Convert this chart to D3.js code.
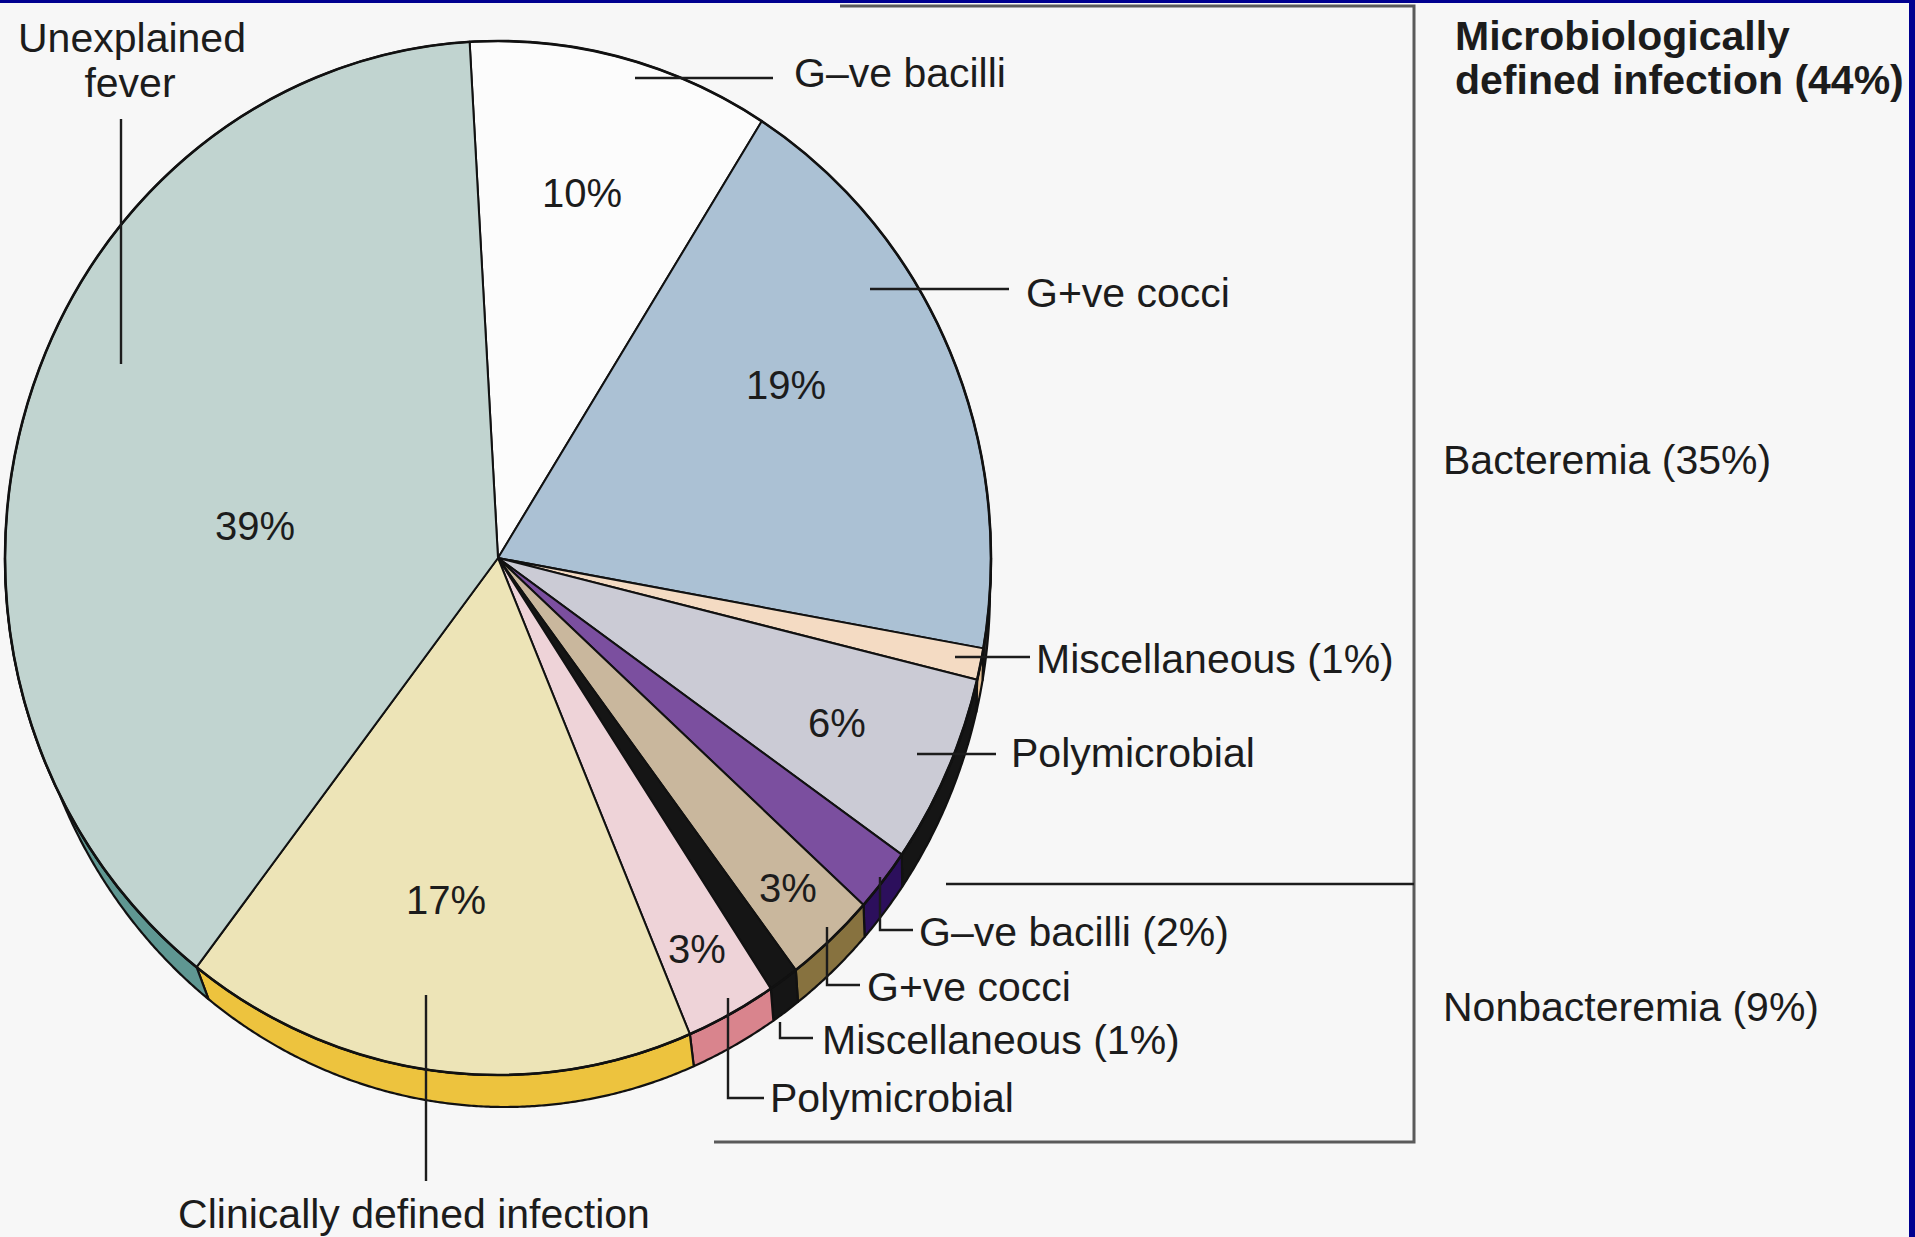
<!DOCTYPE html>
<html>
<head>
<meta charset="utf-8">
<script src="https://cdn.jsdelivr.net/npm/d3@7"></script>
<style>
  html, body { margin: 0; padding: 0; background: #000090; }
  svg { display: block; }
  text { font-family: "Liberation Sans", Arial, Helvetica, sans-serif; fill: #1c1c1c; }
</style>
</head>
<body>
<svg id="chart" width="1915" height="1237"></svg>
<script>
// ---------------- DATA ----------------
const categories = [
  "G\u2013ve bacilli", "G+ve cocci", "Miscellaneous (1%)", "Polymicrobial",
  "G\u2013ve bacilli (2%)", "G+ve cocci", "Miscellaneous (1%)", "Polymicrobial",
  "Clinically defined infection", "Unexplained fever"
];
const values = [10, 19, 1, 6, 2, 3, 1, 3, 17, 39];
const pctLabels = ["10%", "19%", "", "6%", "", "3%", "", "3%", "17%", "39%"];
const groupTitle = ["Microbiologically", "defined infection (44%)"];
const groupLabels = ["Bacteremia (35%)", "Nonbacteremia (9%)"];

// ---------------- STYLE / LAYOUT ----------------
const topColors  = ["#fcfcfc", "#abc1d4", "#f4dbc3", "#cbcbd5", "#7b4f9f", "#c9b79d", "#151515", "#eed3d8", "#ede4b7", "#c1d4d0"];
const sideColors = ["#dcdcdc", "#2a2a2a", "#e6c196", "#151515", "#2c0f5c", "#87723f", "#151515", "#d9848d", "#edc33e", "#5f9792"];

const W = 1915, H = 1237;
const cx = 498, cy = 558, rx = 493, ry = 517;
const depth = 32, sideShiftX = 7, sideShrink = 8;
const startDeg = -3.3;

const svg = d3.select("#chart");

// background panel
svg.append("rect").attr("x", 0).attr("y", 3).attr("width", 1909).attr("height", H - 3).attr("fill", "#f7f7f7");

// ---------------- PIE ----------------
const k = ry / rx;
const a0 = startDeg * Math.PI / 180;
const pie = d3.pie().sort(null).value(d => d).startAngle(a0).endAngle(a0 + 2 * Math.PI);
const arcs = pie(values);
const arcGen = d3.arc().innerRadius(0).outerRadius(rx);

// side walls (3D depth) drawn in screen coordinates, lower half only
const topPt = t => [cx + rx * Math.sin(t), cy - ry * Math.cos(t)];
const botPt = t => [cx + sideShiftX + (rx - sideShrink) * Math.sin(t), cy + depth - ry * Math.cos(t)];
const sides = svg.append("g");
const closedLine = d3.line().curve(d3.curveLinearClosed);
arcs.forEach((a, i) => {
  const b0 = Math.max(a.startAngle, Math.PI / 2);
  const b1 = Math.min(a.endAngle, 3 * Math.PI / 2);
  if (b1 <= b0) return;
  const n = Math.max(4, Math.ceil((b1 - b0) / 0.005));
  const ts = d3.range(n + 1).map(j => b0 + (b1 - b0) * j / n);
  const pts = ts.map(topPt).concat(ts.slice().reverse().map(botPt));
  sides.append("path")
    .attr("d", closedLine(pts))
    .attr("fill", sideColors[i])
    .attr("stroke", "#111")
    .attr("stroke-width", 2.2)
    .attr("stroke-linejoin", "round");
});

const g = svg.append("g").attr("transform", `translate(${cx},${cy}) scale(1,${k})`);

// top slices
g.selectAll("path.slice")
  .data(arcs)
  .join("path")
  .attr("class", "slice")
  .attr("d", arcGen)
  .attr("fill", (d, i) => topColors[i])
  .attr("stroke", "#111")
  .attr("stroke-width", 2)
  .attr("stroke-linejoin", "round")
  .attr("vector-effect", "non-scaling-stroke");

// outer rim outline
g.append("ellipse").attr("cx", 0).attr("cy", 0).attr("rx", rx).attr("ry", rx)
  .attr("fill", "none").attr("stroke", "#111").attr("stroke-width", 2.6)
  .attr("vector-effect", "non-scaling-stroke");

// ---------------- PERCENT LABELS ----------------
const pctPos = [[582, 207], [786, 399], null, [837, 737], null, [788, 902], null, [697, 963], [446, 914], [255, 540]];
pctLabels.forEach((t, i) => {
  if (!t) return;
  svg.append("text")
    .attr("x", pctPos[i][0]).attr("y", pctPos[i][1])
    .attr("text-anchor", "middle")
    .attr("font-size", 40)
    .text(t);
});

// ---------------- LEADERS & CATEGORY LABELS ----------------
const lineStyle = sel => sel.attr("fill", "none").attr("stroke", "#1c1c1c").attr("stroke-width", 2.4);
const leaders = [
  [[635, 78], [773, 78]],                 // G-ve bacilli
  [[870, 289], [1009, 289]],              // G+ve cocci
  [[955, 657], [1030, 657]],              // Misc (1%)
  [[917, 754], [996, 754]],               // Polymicrobial
  [[880, 877], [880, 930], [913, 930]],   // G-ve bacilli (2%)
  [[827, 927], [827, 985], [860, 985]],   // G+ve cocci (nonbact)
  [[780, 1022], [780, 1038], [813, 1038]],// Misc (1%) nonbact
  [[728, 998], [728, 1098], [764, 1098]], // Polymicrobial nonbact
  [[426, 995], [426, 1181]],              // Clinically defined infection
  [[121, 119], [121, 364]]                // Unexplained fever
];
const line = d3.line();
leaders.forEach(pts => svg.append("path").attr("d", line(pts)).call(lineStyle));

const labelPos = [
  [794, 87, "start"], [1026, 307, "start"], [1036, 673, "start"], [1011, 767, "start"],
  [919, 946, "start"], [867, 1001, "start"], [822, 1054, "start"], [770, 1112, "start"],
  [414, 1228, "middle"], null
];
categories.forEach((c, i) => {
  const p = labelPos[i];
  if (!p) return;
  svg.append("text").attr("x", p[0]).attr("y", p[1]).attr("text-anchor", p[2])
    .attr("font-size", 41).text(c);
});
// Unexplained fever on two lines
const uf = categories[9].split(" ");
svg.append("text").attr("x", 132).attr("y", 52).attr("text-anchor", "middle").attr("font-size", 41).text(uf[0]);
svg.append("text").attr("x", 130).attr("y", 97).attr("text-anchor", "middle").attr("font-size", 41).text(uf[1]);

// ---------------- BRACKET ----------------
const br = sel => sel.attr("fill", "none").attr("stroke", "#5a5a5a").attr("stroke-width", 3);
svg.append("path").attr("d", line([[840, 6], [1414, 6], [1414, 1142], [714, 1142]])).call(br);
svg.append("path").attr("d", line([[946, 884], [1414, 884]])).attr("stroke", "#1c1c1c").attr("stroke-width", 2.4);

// group labels
svg.append("text").attr("x", 1455).attr("y", 50).attr("font-size", 41).attr("font-weight", "bold").text(groupTitle[0]);
svg.append("text").attr("x", 1455).attr("y", 94).attr("font-size", 41).attr("font-weight", "bold").text(groupTitle[1]);
svg.append("text").attr("x", 1443).attr("y", 474).attr("font-size", 41).text(groupLabels[0]);
svg.append("text").attr("x", 1443).attr("y", 1021).attr("font-size", 41).text(groupLabels[1]);
</script>
</body>
</html>
